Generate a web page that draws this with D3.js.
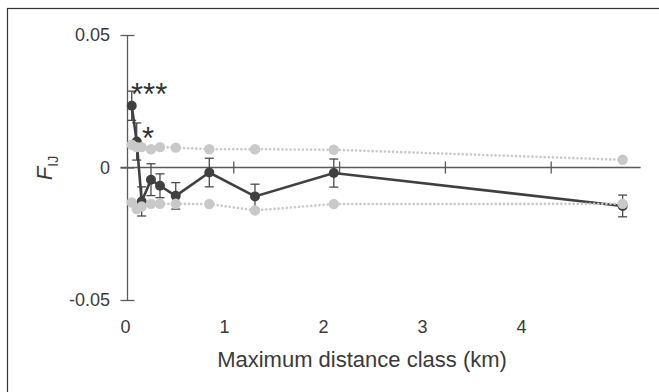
<!DOCTYPE html>
<html>
<head>
<meta charset="utf-8">
<script src="https://cdn.jsdelivr.net/npm/d3@7"></script>
<style>
  body { margin: 0; background: #fff; }
  svg { display: block; font-family: "Liberation Sans", Arial, sans-serif; }
</style>
</head>
<body>
<div id="chart"></div>
<script>
// maximum distance class (km)
const distances = [0.04, 0.087, 0.134, 0.222, 0.307, 0.456, 0.773, 1.205, 1.95, 4.68];
// observed F_IJ and its error
const fij = [0.0233, 0.0098, -0.0128, -0.0046, -0.0069, -0.0107, -0.0019, -0.0109, -0.0021, -0.0145];
const fijErr = [0.0055, 0.0070, 0.0055, 0.0060, 0.0045, 0.0050, 0.0054, 0.0046, 0.0053, 0.0041];
// permutation envelope (upper / lower)
const envUpper = [0.0086, 0.0077, 0.0077, 0.0069, 0.0077, 0.0075, 0.0069, 0.0069, 0.0067, 0.0029];
const envLower = [-0.0132, -0.0157, -0.0147, -0.0137, -0.0137, -0.0137, -0.0138, -0.0162, -0.0138, -0.0137];
const yTicks = [0.05, 0, -0.05];
const yTickLabels = ["0.05", "0", "-0.05"];
const xTicks = [0, 1, 2, 3, 4];

const width = 659, height = 392;
const dark = "#404040", light = "#c9c9c9", axisCol = "#5a5a5a";

const svg = d3.select("#chart").append("svg")
  .attr("width", width)
  .attr("height", height);

// frame round the figure (cut at right / bottom like the original)
svg.append("rect")
  .attr("x", 7.5).attr("y", 8.5)
  .attr("width", 700).attr("height", 400)
  .attr("fill", "none")
  .attr("stroke", "#333")
  .attr("stroke-width", 1.2);

const x = d3.scaleLinear().domain([0, 4]).range([127.5, 550.7]);
// tick labels sit slightly off the tick marks in the original
const xLab = d3.scaleLinear().domain([0, 4]).range([125, 521]);
const y = d3.scaleLinear().domain([-0.05, 0.05]).range([300, 35]);

// Y axis (ticks cross the line)
const yAxis = svg.append("g")
  .call(d3.axisLeft(y).tickValues(yTicks).tickSizeInner(-14).tickSizeOuter(0).tickFormat(""));
yAxis.attr("transform", "translate(" + (x(0) + 7) + ",0)");
yAxis.select(".domain").remove();
yAxis.selectAll(".tick line").attr("stroke", axisCol).attr("stroke-width", 1.3).attr("x1", -14).attr("x2", 0);

svg.append("line")
  .attr("x1", x(0)).attr("x2", x(0))
  .attr("y1", y(0.05)).attr("y2", y(-0.05))
  .attr("stroke", axisCol).attr("stroke-width", 1.3);

svg.append("g")
  .selectAll("text")
  .data(yTicks)
  .enter()
  .append("text")
    .attr("x", 110)
    .attr("y", d => y(d))
    .attr("dy", "0.35em")
    .attr("text-anchor", "end")
    .attr("font-size", 18)
    .attr("fill", "#3a3a3a")
    .text((d, i) => yTickLabels[i]);

// zero line with crossing ticks
const zeroAxis = svg.append("g")
  .attr("transform", "translate(0," + (y(0) + 6) + ")")
  .call(d3.axisTop(x).tickValues([1, 2, 3, 4]).tickSize(12).tickFormat(""));
zeroAxis.select(".domain").remove();
zeroAxis.selectAll(".tick line").attr("stroke", axisCol).attr("stroke-width", 1.3);

svg.append("line")
  .attr("x1", x(0) - 7).attr("x2", x(4.85))
  .attr("y1", y(0)).attr("y2", y(0))
  .attr("stroke", axisCol).attr("stroke-width", 1.3);

// X tick labels
const xLabAxis = svg.append("g")
  .attr("transform", "translate(0,320)")
  .call(d3.axisBottom(xLab).tickValues(xTicks).tickSize(0).tickPadding(0).tickFormat(d3.format("d")));
xLabAxis.select(".domain").remove();
xLabAxis.selectAll("text")
  .attr("font-size", 18)
  .attr("font-family", "Liberation Sans, Arial, sans-serif")
  .attr("fill", "#3a3a3a")
  .attr("dy", "0.71em");

// axis titles
svg.append("text")
  .attr("x", 362)
  .attr("y", 367)
  .attr("text-anchor", "middle")
  .attr("font-size", 22)
  .attr("fill", "#3a3a3a")
  .text("Maximum distance class (km)");

const yTitle = svg.append("text")
  .attr("transform", "translate(52,168) rotate(-90)")
  .attr("text-anchor", "middle")
  .attr("font-size", 22)
  .attr("fill", "#3a3a3a");
yTitle.append("tspan").attr("font-style", "italic").text("F");
yTitle.append("tspan").attr("font-size", 14).attr("dy", 6).text("IJ");

// data
const obs = distances.map((d, i) => ({ d, v: fij[i], e: fijErr[i] }));
const up = distances.map((d, i) => ({ d, v: envUpper[i] }));
const lo = distances.map((d, i) => ({ d, v: envLower[i] }));

const line = d3.line()
  .x(p => x(p.d))
  .y(p => y(p.v));

// error bars
const eb = svg.append("g").attr("stroke", "#4a4a4a").attr("stroke-width", 1.3);
obs.forEach(p => {
  eb.append("line").attr("x1", x(p.d)).attr("x2", x(p.d)).attr("y1", y(p.v + p.e)).attr("y2", y(p.v - p.e));
  eb.append("line").attr("x1", x(p.d) - 4.5).attr("x2", x(p.d) + 4.5).attr("y1", y(p.v + p.e)).attr("y2", y(p.v + p.e));
  eb.append("line").attr("x1", x(p.d) - 4.5).attr("x2", x(p.d) + 4.5).attr("y1", y(p.v - p.e)).attr("y2", y(p.v - p.e));
});

svg.append("path")
  .datum(obs)
  .attr("d", line)
  .attr("fill", "none")
  .attr("stroke", dark)
  .attr("stroke-width", 2.6);

svg.selectAll(".obsPt")
  .data(obs)
  .enter()
  .append("circle")
    .attr("class", "obsPt")
    .attr("cx", p => x(p.d))
    .attr("cy", p => y(p.v))
    .attr("r", 5)
    .attr("fill", dark);

// envelope (drawn over the observed series)
[up, lo].forEach(series => {
  svg.append("path")
    .datum(series)
    .attr("d", line)
    .attr("fill", "none")
    .attr("stroke", light)
    .attr("stroke-width", 2.6)
    .attr("stroke-linecap", "round")
    .attr("stroke-dasharray", "0.1,4");
  svg.append("g")
    .selectAll("circle")
    .data(series)
    .enter()
    .append("circle")
      .attr("cx", p => x(p.d))
      .attr("cy", p => y(p.v))
      .attr("r", 5.2)
      .attr("fill", light);
});

// significance marks
svg.append("text")
  .attr("x", 131)
  .attr("y", 105)
  .attr("font-size", 31)
  .attr("fill", "#333")
  .text("***");
svg.append("text")
  .attr("x", 142)
  .attr("y", 149)
  .attr("font-size", 31)
  .attr("fill", "#333")
  .text("*");
</script>
</body>
</html>
